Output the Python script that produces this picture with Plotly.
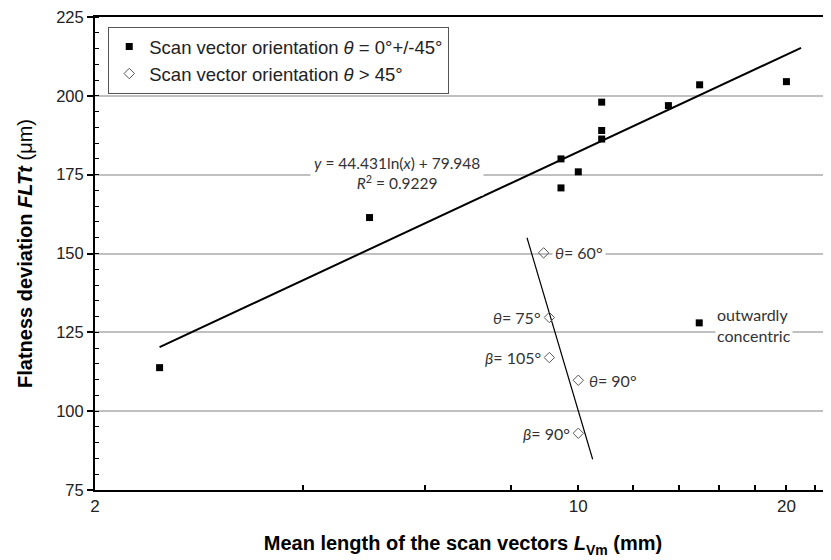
import numpy as np
import plotly.graph_objects as go

# ---- data ----
sq_x = [2.48, 4.99, 9.44, 9.44, 10.0, 10.81, 10.81, 10.81, 13.5, 14.98, 20.0]
sq_y = [113.8, 161.4, 170.8, 180.0, 175.9, 198.0, 189.0, 186.3, 196.9, 203.5, 204.5]
oc_x = [14.96]
oc_y = [128.0]
dia_x = [8.91, 9.08, 9.08, 10.0, 10.0]
dia_y = [150.2, 129.7, 117.0, 109.8, 93.0]
dia_labels = ["<i>θ</i>= 60°", "<i>θ</i>= 75°", "<i>β</i>= 105°", "<i>θ</i>= 90°", "<i>β</i>= 90°"]
fit_a = 44.431
fit_b = 79.948
fit_r2 = 0.9229
fit_xrange = [2.48, 21.0]
dia_fit_xrange = [8.43, 10.49]
x_major_ticks = [2, 10, 20]
x_minor_ticks = [4, 6, 8, 12, 14, 16, 18, 22]
y_tickvals = [75, 100, 125, 150, 175, 200, 225]

FONT_AX = "Liberation Sans Narrow, Arial Narrow, Liberation Sans, Arial"
FONT_LBL = "Lato, Liberation Sans, Arial"

fig = go.Figure()

# main log trend line
fx = np.array(fit_xrange)
fig.add_trace(go.Scatter(x=fx, y=fit_a * np.log(fx) + fit_b, mode="lines",
                         line=dict(color="black", width=2), showlegend=False, hoverinfo="skip"))

# diamond log trend line (least squares on ln x)
da, db = np.polyfit(np.log(dia_x), dia_y, 1)
dx = np.array(dia_fit_xrange)
fig.add_trace(go.Scatter(x=dx, y=da * np.log(dx) + db, mode="lines",
                         line=dict(color="black", width=1.2), showlegend=False, hoverinfo="skip"))

fig.add_trace(go.Scatter(x=sq_x, y=sq_y, mode="markers",
                         marker=dict(symbol="square", size=7, color="black"),
                         name="Scan vector orientation <i>θ</i> = 0°+/-45°",
                         legendgroup="a"))
fig.add_trace(go.Scatter(x=oc_x, y=oc_y, mode="markers",
                         marker=dict(symbol="square", size=7, color="black"),
                         showlegend=False, legendgroup="a"))
fig.add_trace(go.Scatter(x=dia_x, y=dia_y, mode="markers",
                         marker=dict(symbol="diamond-open", size=8, color="#555555",
                                     line=dict(width=1)),
                         name="Scan vector orientation <i>θ</i> > 45°",
                         legendgroup="b"))

annotations = []
sides = ["right", "left", "left", "right", "left"]
for x, y, t, s in zip(dia_x, dia_y, dia_labels, sides):
    annotations.append(dict(
        x=np.log10(x), y=y, text=t, showarrow=False,
        xanchor="left" if s == "right" else "right",
        xshift=8 if s == "right" else -5,
        font=dict(family=FONT_LBL, size=16, color="#333333"),
        bgcolor="white", borderpad=2))

annotations.append(dict(
    x=np.log10(oc_x[0]), y=oc_y[0], text="outwardly<br>concentric", showarrow=False,
    xanchor="left", align="left", xshift=16, yshift=-2,
    font=dict(family=FONT_LBL, size=16, color="#333333"),
    bgcolor="white", borderpad=1))

annotations.append(dict(
    x=np.log10(5.47), y=175.5,
    text=f"<i>y</i> = {fit_a}ln(<i>x</i>) + {fit_b}<br><i>R</i><sup>2</sup> = {fit_r2}",
    showarrow=False, align="center",
    font=dict(family=FONT_LBL, size=15.5, color="#333333"),
    bgcolor="white", borderpad=3))

# page body has an 8px margin, so the figure is slightly smaller than the window
fig.update_layout(
    width=823, height=552,
    margin=dict(l=87, r=0, t=9, b=70),
    paper_bgcolor="white", plot_bgcolor="white",
    annotations=annotations,
    showlegend=True,
    legend=dict(x=0.018, y=0.979, xanchor="left", yanchor="top",
                bgcolor="white", bordercolor="#555555", borderwidth=1,
                font=dict(family="Liberation Sans, Arial", size=18.5, color="#222222"),
                itemwidth=30, tracegroupgap=0, traceorder="grouped"),
    xaxis=dict(type="log", range=[np.log10(2), np.log10(23.2)], automargin=False,
               tickvals=x_major_ticks,
               ticks="inside", ticklen=5, tickwidth=1.5, tickcolor="black",
               minor=dict(tickvals=x_minor_ticks, ticks="inside", ticklen=5, tickwidth=1.5,
                          tickcolor="black", showgrid=False),
               showline=True, linecolor="black", linewidth=2, mirror=True,
               showgrid=False, zeroline=False, ticklabeloverflow="allow",
               tickfont=dict(family=FONT_AX, size=17, color="#222222"),
               title=dict(text="<b>Mean length of the scan vectors <i>L</i><sub>Vm</sub> (mm)</b>",
                          font=dict(family=FONT_AX, size=20, color="black"), standoff=21)),
    yaxis=dict(range=[75, 225], tickvals=y_tickvals, automargin=False,
               ticks="outside", ticklen=6, tickwidth=1.5, tickcolor="black",
               minor=dict(dtick=5, ticks="inside", ticklen=4, tickwidth=1, tickcolor="black",
                          showgrid=False),
               showline=True, linecolor="black", linewidth=2,
               showgrid=True, gridcolor="#c0c0c0", gridwidth=1.5, zeroline=False,
               ticklabeloverflow="allow",
               tickfont=dict(family=FONT_AX, size=16.5, color="#222222"),
               title=dict(text="<b>Flatness deviation <i>FLTt</i></b> (μm)",
                          font=dict(family=FONT_AX, size=20, color="black"), standoff=18)),
)

fig.write_html("out.html")
